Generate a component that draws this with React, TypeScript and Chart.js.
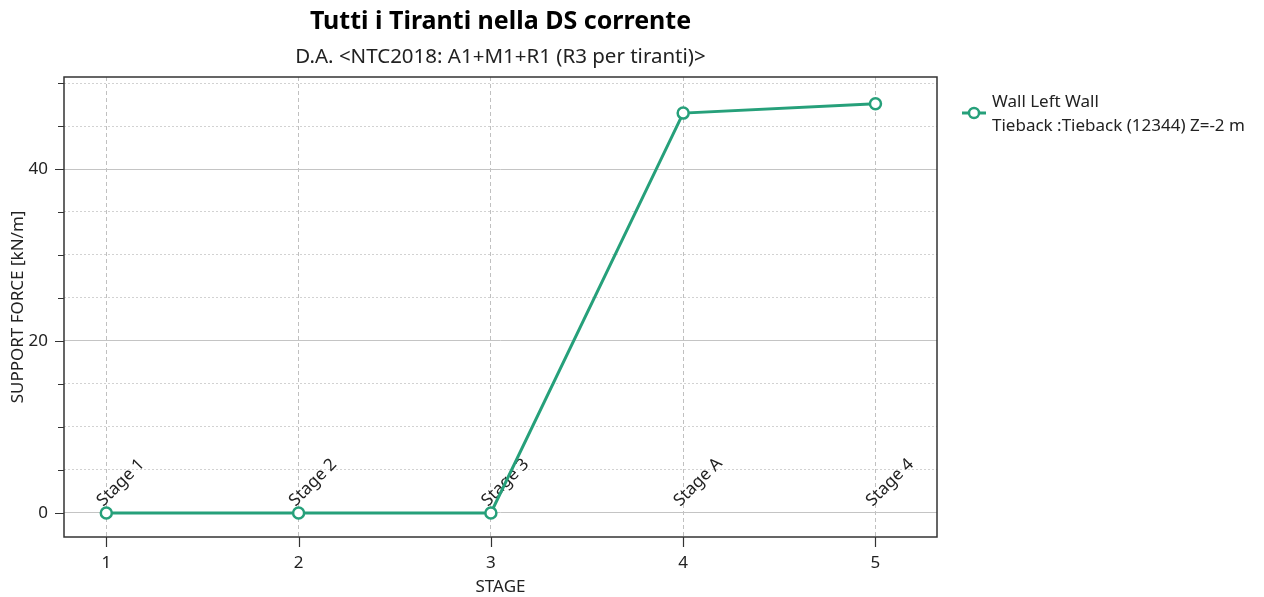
import React, { useEffect, useRef } from "react";
import { Chart, registerables } from "chart.js";

Chart.register(...registerables);

const stages = [1, 2, 3, 4, 5];
const stageNames = ["Stage 1", "Stage 2", "Stage 3", "Stage A", "Stage 4"];
const forces = [0, 0, 0, 46.5, 47.6];
const xTickLabels = ["1", "2", "3", "4", "5"];
const yMajorTicks = [0, 20, 40];

const titleText = "Tutti i Tiranti nella DS corrente";
const subtitleText = "D.A. <NTC2018: A1+M1+R1 (R3 per tiranti)>";
const xTitle = "STAGE";
const yTitle = "SUPPORT FORCE [kN/m]";
const legendLines = ["Wall Left Wall", "Tieback :Tieback (12344) Z=-2 m"];

const FONT = "'Noto Sans', 'Open Sans', sans-serif";
const GREEN = "rgb(38,160,122)";
const TEXT = "#222";

const overlay = {
  id: "overlay",
  beforeDraw(chart: any) {
    const { ctx, width, height } = chart;
    ctx.save();
    ctx.fillStyle = "#fff";
    ctx.fillRect(0, 0, width, height);
    ctx.restore();
  },
  beforeDatasetsDraw(chart: any) {
    const { ctx, scales } = chart;
    const xs = scales.x;
    const ys = scales.y;
    ctx.save();
    ctx.fillStyle = TEXT;
    ctx.font = `17px ${FONT}`;
    ctx.textAlign = "left";
    ctx.textBaseline = "alphabetic";
    stages.forEach((s, i) => {
      const px = xs.getPixelForValue(s);
      const py = ys.getPixelForValue(0);
      ctx.save();
      ctx.translate(px - 3, py - 6);
      ctx.rotate(-Math.PI / 4);
      ctx.fillText(stageNames[i], 0, 0);
      ctx.restore();
    });
    ctx.restore();
  },
  afterDraw(chart: any) {
    const { ctx, chartArea: a, scales } = chart;
    const xs = scales.x;
    const ys = scales.y;
    const cx = (a.left + a.right) / 2;
    const cy = (a.top + a.bottom) / 2;
    ctx.save();
    // titles
    ctx.fillStyle = "#000";
    ctx.textAlign = "center";
    ctx.textBaseline = "middle";
    ctx.font = `bold 25px ${FONT}`;
    ctx.fillText(titleText, cx, 22);
    ctx.fillStyle = TEXT;
    ctx.font = `20.5px ${FONT}`;
    ctx.fillText(subtitleText, cx, 57);
    // box
    ctx.strokeStyle = "#333";
    ctx.lineWidth = 1.5;
    ctx.strokeRect(a.left, a.top, a.right - a.left, a.bottom - a.top);
    // y ticks
    ctx.lineWidth = 1.2;
    ctx.beginPath();
    ys.ticks.forEach((t: any) => {
      const y = Math.round(ys.getPixelForValue(t.value)) + 0.5;
      const major = yMajorTicks.includes(t.value);
      ctx.moveTo(a.left - (major ? 9 : 6), y);
      ctx.lineTo(a.left, y);
    });
    // x ticks
    xs.ticks.forEach((t: any) => {
      const x = Math.round(xs.getPixelForValue(t.value)) + 0.5;
      ctx.moveTo(x, a.bottom);
      ctx.lineTo(x, a.bottom + 10);
    });
    ctx.stroke();
    // axis titles
    ctx.fillStyle = TEXT;
    ctx.font = `17px ${FONT}`;
    ctx.textAlign = "center";
    ctx.textBaseline = "middle";
    ctx.fillText(xTitle, cx, 587);
    ctx.save();
    ctx.translate(18, cy);
    ctx.rotate(-Math.PI / 2);
    ctx.fillText(yTitle, 0, 0);
    ctx.restore();
    // legend
    const ly = 113;
    ctx.strokeStyle = GREEN;
    ctx.lineWidth = 3;
    ctx.beginPath();
    ctx.moveTo(962, ly);
    ctx.lineTo(986, ly);
    ctx.stroke();
    ctx.beginPath();
    ctx.arc(974, ly, 5, 0, Math.PI * 2);
    ctx.fillStyle = "#fff";
    ctx.fill();
    ctx.lineWidth = 2.5;
    ctx.stroke();
    ctx.fillStyle = TEXT;
    ctx.font = `17px ${FONT}`;
    ctx.textAlign = "left";
    ctx.textBaseline = "middle";
    ctx.fillText(legendLines[0], 992, 102);
    ctx.fillText(legendLines[1], 992, 126);
    ctx.restore();
  },
};

export default function App() {
  const ref = useRef<HTMLCanvasElement | null>(null);
  useEffect(() => {
    if (!ref.current) return;
    const chart = new Chart(ref.current, {
      type: "line",
      data: {
        datasets: [
          {
            label: legendLines.join(" "),
            data: stages.map((s, i) => ({ x: s, y: forces[i] })),
            borderColor: GREEN,
            borderWidth: 3,
            pointRadius: 5.5,
            pointBorderWidth: 2.5,
            pointBackgroundColor: "#fff",
            pointBorderColor: GREEN,
            tension: 0,
          },
        ],
      },
      options: {
        animation: false,
        responsive: false,
        maintainAspectRatio: false,
        layout: { padding: { top: 77, right: 327, left: 0, bottom: 0 } },
        plugins: {
          legend: { display: false },
          title: { display: false },
          tooltip: { enabled: false },
        },
        scales: {
          x: {
            type: "linear",
            min: 0.78,
            max: 5.32,
            afterFit: (s: any) => {
              s.height = 60;
            },
            ticks: {
              stepSize: 1,
              includeBounds: false,
              padding: 16,
              color: TEXT,
              font: { family: FONT, size: 17 },
              callback: (v: any) => {
                const i = stages.indexOf(Number(v));
                return i >= 0 ? xTickLabels[i] : "";
              },
            },
            grid: { color: "#c0c0c0", lineWidth: 1, drawTicks: false },
            border: { display: false, dash: [4, 3] },
          },
          y: {
            type: "linear",
            min: -2.8,
            max: 50.7,
            afterFit: (s: any) => {
              s.width = 64;
            },
            ticks: {
              stepSize: 5,
              includeBounds: false,
              padding: 16,
              color: TEXT,
              font: { family: FONT, size: 17 },
              callback: (v: any) => (yMajorTicks.includes(Number(v)) ? String(v) : ""),
            },
            grid: {
              drawTicks: false,
              lineWidth: 1,
              color: (c: any) =>
                c.tick && yMajorTicks.includes(c.tick.value) ? "#c4c4c4" : "#d2d2d2",
            },
            border: {
              display: false,
              dash: (c: any) =>
                c.tick && !yMajorTicks.includes(c.tick.value) ? [2, 2] : [],
            },
          },
        },
      },
      plugins: [overlay],
    } as any);
    return () => chart.destroy();
  }, []);
  return (
    <div style={{ position: "fixed", left: 0, top: 0, width: 1264, height: 597, background: "#fff" }}>
      <canvas ref={ref} width={1264} height={597} style={{ display: "block", width: 1264, height: 597 }} />
    </div>
  );
}
